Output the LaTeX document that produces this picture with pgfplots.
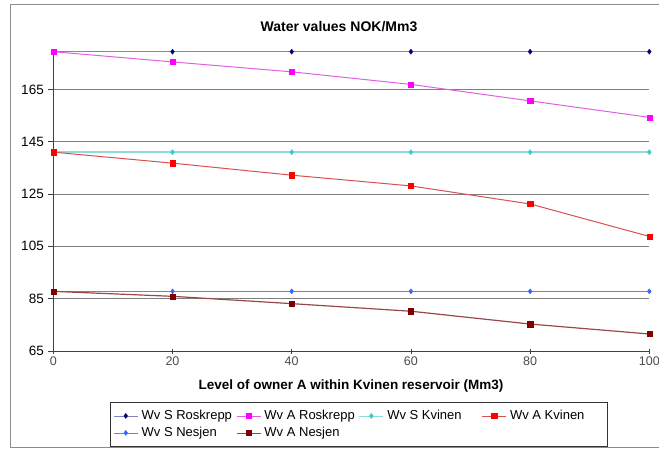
\documentclass[border=0pt]{standalone}
\usepackage{pgfplots}
\pgfplotsset{compat=1.18}
\usepackage{fontspec}
\setmainfont{Liberation Sans}

% series colours (marker / line)
\definecolor{navyM}{HTML}{000080}
\definecolor{navyL}{HTML}{8282C2}
\definecolor{magM}{HTML}{FF00FF}
\definecolor{magL}{HTML}{E060E0}
\definecolor{cyanM}{HTML}{33CCCC}
\definecolor{cyanL}{HTML}{90DADA}
\definecolor{redM}{HTML}{FF0000}
\definecolor{redL}{HTML}{D85050}
\definecolor{blueM}{HTML}{3366FF}
\definecolor{blueL}{HTML}{5A86F0}
\definecolor{brownM}{HTML}{800000}
\definecolor{brownL}{HTML}{984848}
\definecolor{gridgray}{HTML}{7F7F7F}
\definecolor{framegray}{HTML}{8C8C8C}

\newcommand{\entry}[1]{\hspace{2pt}\makebox[93pt][l]{#1}}

\begin{document}
\begin{tikzpicture}
\useasboundingbox (0pt,0pt) rectangle (659pt,-449pt);
% chart frame
\draw[framegray, line width=1pt] (661pt,-4.5pt) -- (10.5pt,-4.5pt) -- (10.5pt,-447.5pt) -- (661pt,-447.5pt);

\begin{axis}[
  at={(53.3pt,-351pt)}, anchor=south west,
  scale only axis, width=596pt, height=299.3pt,
  xmin=0, xmax=100, ymin=65, ymax=179.4,
  clip=false,
  axis x line*=bottom, axis y line*=left,
  axis line style={black!75, line width=0.9pt, -},
  xtick={0,20,...,100}, ytick={65,85,105,125,145,165},
  xtick align=center, ytick align=outside,
  major tick length=5pt,
  tick style={black!75, line width=0.8pt},
  ymajorgrids,
  major grid style={gridgray, line width=0.9pt},
  /pgf/number format/assume math mode=true,
  y tick label style={font=\fontsize{13.5}{15}\selectfont, xshift=-1pt},
  x tick label style={font=\fontsize{12.5}{14}\selectfont, text=black!70},
  legend style={
    at={(0.0951,-0.1704)}, anchor=north west,
    draw=black!80, line width=0.8pt,
    font=\fontsize{13}{14}\selectfont,
    inner xsep=3pt, inner ysep=5pt,
    nodes={inner sep=1.5pt, minimum height=17pt},
    legend columns=4,
  },
  legend cell align=left,
  legend image code/.code={%
    \draw[mark repeat=2, mark phase=2, line width=0.8pt]
      plot coordinates {(0pt,0pt) (12pt,0pt) (24pt,0pt)};},
]
% Wv S Roskrepp
\addplot[navyL, line width=1.6pt, mark=diamond*, mark size=2.6pt,
  mark options={draw=navyM, fill=navyM, line width=0.3pt}]
  coordinates {(0,179.4) (20,179.4) (40,179.4) (60,179.4) (80,179.4) (100,179.4)};
\addlegendentry{\entry{Wv S Roskrepp}}
% Wv A Roskrepp
\addplot[magL, line width=1pt, mark=square*, mark size=2.6pt,
  mark options={draw=magM, fill=magM, line width=0.3pt}]
  coordinates {(0,179.4) (20,175.5) (40,171.7) (60,166.9) (80,160.6) (100,154.3)};
\addlegendentry{\entry{Wv A Roskrepp}}
% Wv S Kvinen
\addplot[cyanL, line width=2.2pt, mark=diamond*, mark size=2.6pt,
  mark options={draw=cyanM, fill=cyanM, line width=0.3pt}]
  coordinates {(0,141.0) (20,141.0) (40,141.0) (60,141.0) (80,141.0) (100,141.0)};
\addlegendentry{\entry{Wv S Kvinen}}
% Wv A Kvinen
\addplot[redL, line width=1pt, mark=square*, mark size=2.6pt,
  mark options={draw=redM, fill=redM, line width=0.3pt}]
  coordinates {(0,141.0) (20,136.8) (40,132.2) (60,128.1) (80,121.2) (100,108.8)};
\addlegendentry{\entry{Wv A Kvinen}}
% Wv S Nesjen
\addplot[blueL, line width=1pt, mark=diamond*, mark size=2.6pt,
  mark options={draw=blueM, fill=blueM, line width=0.3pt}]
  coordinates {(0,87.8) (20,87.8) (40,87.8) (60,87.8) (80,87.8) (100,87.8)};
\addlegendentry{\entry{Wv S Nesjen}}
% Wv A Nesjen
\addplot[brownL, line width=1.2pt, mark=square*, mark size=2.6pt,
  mark options={draw=brownM, fill=brownM, line width=0.3pt}]
  coordinates {(0,87.8) (20,85.9) (40,83.1) (60,80.2) (80,75.3) (100,71.5)};
\addlegendentry{\entry{Wv A Nesjen}}
\end{axis}

\node[font=\bfseries\fontsize{14}{16}\selectfont] at (339pt,-27pt) {Water values NOK/Mm3};
\node[font=\bfseries\fontsize{13.5}{15}\selectfont] at (351pt,-385.7pt) {Level of owner A within Kvinen reservoir (Mm3)};
\end{tikzpicture}
\end{document}
